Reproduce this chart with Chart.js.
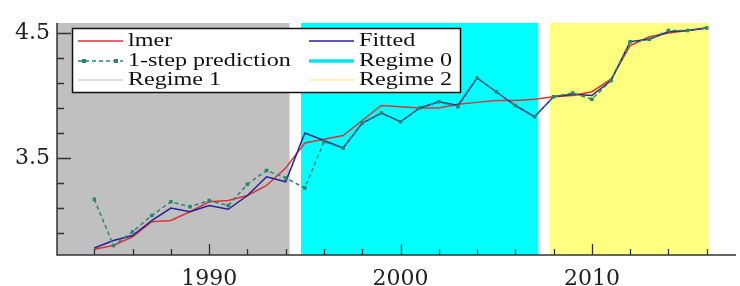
<!DOCTYPE html>
<html>
<head>
<meta charset="utf-8">
<script src="https://cdn.jsdelivr.net/npm/chart.js@4"></script>
<style>
  html, body { margin: 0; padding: 0; background: #ffffff; }
  canvas { display: block; }
</style>
</head>
<body>
<canvas id="lmer-chart" width="740" height="286"></canvas>
<script>
// dados
const years = [1984, 1985, 1986, 1987, 1988, 1989, 1990, 1991, 1992, 1993, 1994,
  1995, 1996, 1997, 1998, 1999, 2000, 2001, 2002, 2003, 2004, 2005,
  2006, 2007, 2008, 2009, 2010, 2011, 2012, 2013, 2014, 2015, 2016];
const lmer = [2.77, 2.80, 2.87, 2.99, 3.00, 3.07, 3.15, 3.16, 3.20, 3.28, 3.42,
  3.62, 3.65, 3.68, 3.80, 3.92, 3.91, 3.90, 3.90, 3.93, 3.945, 3.96,
  3.96, 3.97, 3.99, 4.00, 4.03, 4.13, 4.40, 4.47, 4.50, 4.52, 4.54];
const fitted = [2.78, 2.84, 2.88, 3.00, 3.10, 3.07, 3.12, 3.09, 3.20, 3.35, 3.31,
  3.70, 3.64, 3.58, 3.78, 3.86, 3.79, 3.90, 3.95, 3.92, 4.14, 4.03,
  3.92, 3.83, 3.99, 4.01, 4.00, 4.12, 4.43, 4.45, 4.51, 4.52, 4.54];
const prediction = [3.17, 2.80, 2.91, 3.04, 3.15, 3.11, 3.16, 3.12, 3.29, 3.40, 3.34,
  3.26, 3.63, 3.58, 3.78, 3.86, 3.79, 3.90, 3.95, 3.91, 4.14, 4.03,
  3.92, 3.83, 3.99, 4.02, 3.97, 4.12, 4.43, 4.45, 4.52, 4.52, 4.54];

// regimes (faixas de fundo)
const regimeNames = ['Regime 1', 'Regime 0', 'Regime 2'];
const regimeFrom = [1982.05, 1994.8, 2007.8];
const regimeTo = [1994.2, 2007.2, 2016.1];
const regimeColors = ['#c0c0c0', '#00ffff', '#ffff80'];

// ticks
const yTickValues = [2.9, 3.1, 3.3, 3.5, 3.7, 3.9, 4.1, 4.3, 4.5];
const yLabelValues = [3.5, 4.5];
const xLabelValues = [1990, 2000, 2010];
const xMinorValues = [1984, 1986, 1988, 1992, 1994, 1996, 1998, 2002, 2004,
  2006, 2008, 2012, 2014, 2016];

function toPoints(values) {
  return years.map(function(year, i) {
    return { x: year, y: values[i] };
  });
}

// fundo dos regimes
const regimePlugin = {
  id: 'regimes',
  beforeDatasetsDraw(chart) {
    const ctx = chart.ctx;
    const xs = chart.scales.x;
    const area = chart.chartArea;
    ctx.save();
    for (let i = 0; i < regimeNames.length; i++) {
      const x1 = xs.getPixelForValue(regimeFrom[i]);
      const x2 = xs.getPixelForValue(regimeTo[i]);
      ctx.fillStyle = regimeColors[i];
      ctx.fillRect(x1, area.top, x2 - x1, area.bottom - area.top);
    }
    ctx.restore();
  }
};

// eixos com ticks para dentro
const axesPlugin = {
  id: 'insideAxes',
  afterDatasetsDraw(chart) {
    const ctx = chart.ctx;
    const xs = chart.scales.x;
    const ys = chart.scales.y;
    const area = chart.chartArea;
    ctx.save();
    ctx.strokeStyle = '#333333';
    ctx.lineWidth = 1.5;
    ctx.beginPath();
    ctx.moveTo(area.left, area.top);
    ctx.lineTo(area.left, area.bottom);
    ctx.lineTo(area.right, area.bottom);
    ctx.stroke();

    ctx.lineWidth = 1.3;
    ctx.beginPath();
    yTickValues.forEach(function(v) {
      const y = Math.round(ys.getPixelForValue(v)) + 0.5;
      const len = yLabelValues.includes(v) ? 14 : 7;
      ctx.moveTo(area.left, y);
      ctx.lineTo(area.left + len, y);
    });
    xLabelValues.forEach(function(v) {
      const x = Math.round(xs.getPixelForValue(v)) + 0.5;
      ctx.moveTo(x, area.bottom);
      ctx.lineTo(x, area.bottom - 11);
    });
    xMinorValues.forEach(function(v) {
      const x = Math.round(xs.getPixelForValue(v)) + 0.5;
      ctx.moveTo(x, area.bottom);
      ctx.lineTo(x, area.bottom - 6);
    });
    ctx.stroke();
    ctx.restore();
  }
};

// legenda em duas colunas
const legendItems = [
  { text: 'lmer', color: '#dd3333', width: 1.5, dash: [], marker: false, col: 0, row: 0 },
  { text: 'Fitted', color: '#22229e', width: 1.5, dash: [], marker: false, col: 1, row: 0 },
  { text: '1-step prediction', color: '#2a8570', width: 1.5, dash: [4, 3], marker: true, col: 0, row: 1 },
  { text: 'Regime 0', color: '#00e8f0', width: 3.5, dash: [], marker: false, col: 1, row: 1 },
  { text: 'Regime 1', color: '#d4d4d4', width: 1.5, dash: [], marker: false, col: 0, row: 2 },
  { text: 'Regime 2', color: '#f2f2a0', width: 1.5, dash: [], marker: false, col: 1, row: 2 }
];

const legendPlugin = {
  id: 'boxLegend',
  afterDraw(chart) {
    const ctx = chart.ctx;
    const box = { x: 72, y: 28, w: 388, h: 64 };
    const colX = [78, 309];
    const rowY = [41, 61, 80];
    ctx.save();
    ctx.fillStyle = '#ffffff';
    ctx.fillRect(box.x, box.y, box.w, box.h);
    ctx.strokeStyle = '#111111';
    ctx.lineWidth = 1.5;
    ctx.strokeRect(box.x + 0.5, box.y + 0.5, box.w, box.h);

    legendItems.forEach(function(item) {
      const x0 = colX[item.col];
      const y = rowY[item.row];
      ctx.strokeStyle = item.color;
      ctx.lineWidth = item.width;
      ctx.setLineDash(item.dash);
      ctx.beginPath();
      ctx.moveTo(x0, y);
      ctx.lineTo(x0 + 45, y);
      ctx.stroke();
      ctx.setLineDash([]);
      if (item.marker) {
        ctx.fillStyle = item.color;
        ctx.fillRect(x0 + 4, y - 2, 4, 4);
        ctx.fillRect(x0 + 36, y - 2, 4, 4);
      }
      ctx.save();
      ctx.translate(x0 + 50, y);
      ctx.scale(1.27, 1);
      ctx.fillStyle = '#111111';
      ctx.font = '19px "Liberation Serif"';
      ctx.textBaseline = 'middle';
      ctx.fillText(item.text, 0, 0);
      ctx.restore();
    });
    ctx.restore();
  }
};

function generateLmerChart() {
  const data = {
    datasets: [{
      label: '1-step prediction',
      data: toPoints(prediction),
      borderColor: '#2a8570',
      backgroundColor: '#2a8570',
      borderWidth: 1.5,
      borderDash: [4, 3],
      pointStyle: 'rect',
      pointRadius: 2.5,
      pointBorderWidth: 0,
      tension: 0,
      order: 1
    }, {
      label: 'Fitted',
      data: toPoints(fitted),
      borderColor: '#22229e',
      borderWidth: 1.5,
      pointRadius: 0,
      tension: 0,
      order: 2
    }, {
      label: 'lmer',
      data: toPoints(lmer),
      borderColor: '#dd3333',
      borderWidth: 1.5,
      pointRadius: 0,
      tension: 0,
      order: 3
    }]
  };

  const config = {
    type: 'line',
    data: data,
    options: {
      responsive: false,
      animation: false,
      devicePixelRatio: 1,
      layout: { padding: { top: 23, right: 0, left: 0, bottom: 0 } },
      plugins: {
        legend: { display: false },
        tooltip: { enabled: false }
      },
      scales: {
        x: {
          type: 'linear',
          min: 1982.05,
          max: 2017.53,
          grid: { drawOnChartArea: false, drawTicks: false, display: false },
          border: { display: false },
          afterBuildTicks: function(scale) {
            scale.ticks = xLabelValues.map(function(v) { return { value: v }; });
          },
          afterFit: function(scale) { scale.height = 31; },
          ticks: {
            padding: 11,
            maxRotation: 0,
            autoSkip: false,
            color: '#222222',
            font: { family: 'DejaVu Serif', size: 22 },
            callback: function(v) { return String(v); }
          }
        },
        y: {
          min: 2.724,
          max: 4.58,
          grid: { drawOnChartArea: false, drawTicks: false, display: false },
          border: { display: false },
          afterBuildTicks: function(scale) {
            scale.ticks = yTickValues.map(function(v) { return { value: v }; });
          },
          afterFit: function(scale) { scale.width = 57; },
          ticks: {
            padding: 7,
            autoSkip: false,
            color: '#222222',
            font: { family: 'DejaVu Serif', size: 22 },
            callback: function(v) {
              return yLabelValues.includes(v) ? v.toFixed(1) : '';
            }
          }
        }
      }
    },
    plugins: [regimePlugin, axesPlugin, legendPlugin]
  };

  new Chart(document.getElementById('lmer-chart'), config);
}

generateLmerChart();
</script>
</body>
</html>
